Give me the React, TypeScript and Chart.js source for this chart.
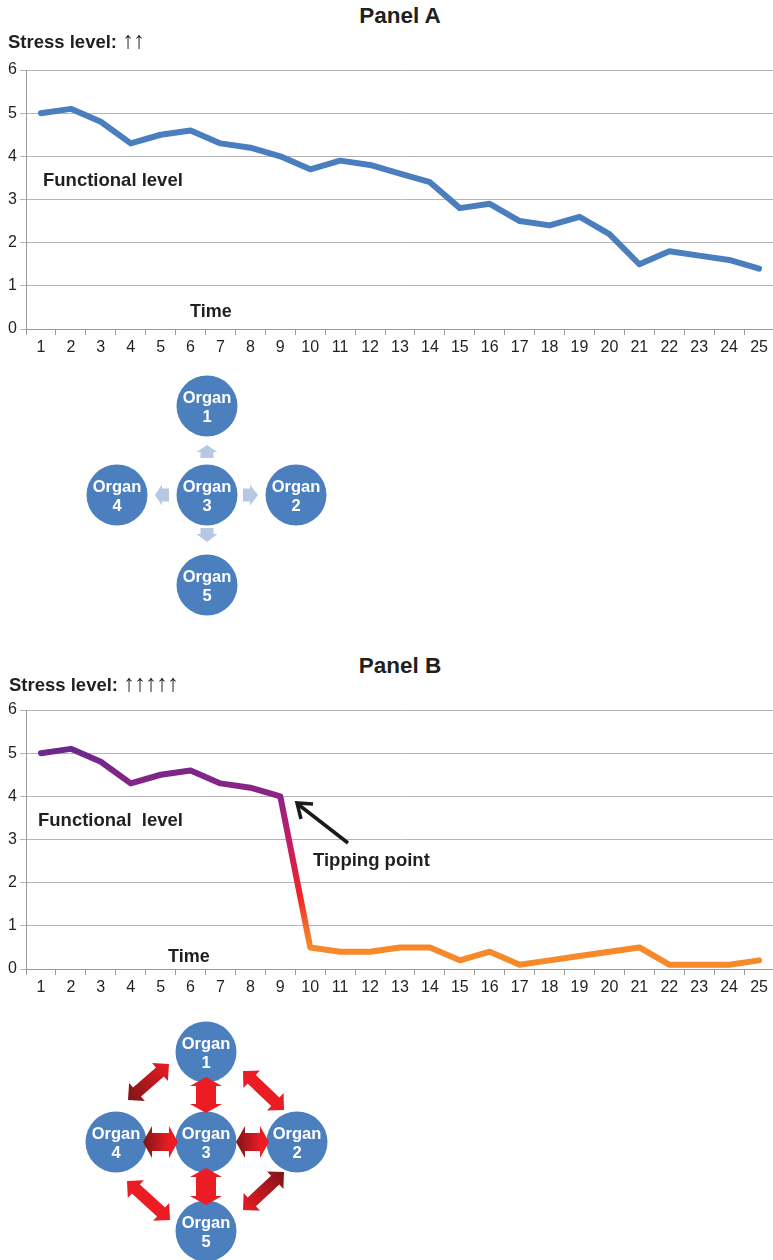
import React, { useEffect, useRef } from "react";
import { Chart, registerables } from "chart.js";

Chart.register(...registerables);

const timeLabels = ["1","2","3","4","5","6","7","8","9","10","11","12","13","14","15","16","17","18","19","20","21","22","23","24","25"];
const functionalA = [5.0, 5.1, 4.8, 4.3, 4.5, 4.6, 4.3, 4.2, 4.0, 3.7, 3.9, 3.8, 3.6, 3.4, 2.8, 2.9, 2.5, 2.4, 2.6, 2.2, 1.5, 1.8, 1.7, 1.6, 1.4];
const functionalB = [5.0, 5.1, 4.8, 4.3, 4.5, 4.6, 4.3, 4.2, 4.0, 0.5, 0.4, 0.4, 0.5, 0.5, 0.2, 0.4, 0.1, 0.2, 0.3, 0.4, 0.5, 0.1, 0.1, 0.1, 0.2];
const yMin = 0;
const yMax = 6;
const yStep = 1;

const FONT = "'Liberation Sans', Arial, Helvetica, sans-serif";
const BLUE_LINE = "#4a7ebf";
const ORGAN_BLUE = "#4b7fbe";

type LineProps = { values: number[]; top: number; gradient: boolean };

function LineChart({ values, top, gradient }: LineProps) {
  const ref = useRef<HTMLCanvasElement | null>(null);
  useEffect(() => {
    if (!ref.current) return;
    const borderColor = gradient
      ? (ctx: any) => {
          const chart = ctx.chart;
          const { chartArea, scales } = chart;
          if (!chartArea) return "#8e2484";
          const y = scales.y;
          const hi = 5.1;
          const lo = 0.5;
          const g = chart.ctx.createLinearGradient(0, y.getPixelForValue(hi), 0, y.getPixelForValue(lo));
          const f = (v: number) => (hi - v) / (hi - lo);
          g.addColorStop(0, "#6a2a8c");
          g.addColorStop(f(4.0), "#8e2484");
          g.addColorStop(f(3.0), "#c21d67");
          g.addColorStop(f(1.7), "#ee2428");
          g.addColorStop(f(0.9), "#f4702a");
          g.addColorStop(1, "#f6892a");
          return g;
        }
      : BLUE_LINE;
    const chart = new Chart(ref.current, {
      type: "line",
      data: {
        labels: timeLabels,
        datasets: [
          {
            data: values,
            borderColor: borderColor as any,
            borderWidth: 6,
            pointRadius: 0,
            tension: 0,
            fill: false,
            borderJoinStyle: "round",
            borderCapStyle: "round",
          },
        ],
      },
      options: {
        animation: false,
        responsive: false,
        maintainAspectRatio: false,
        plugins: { legend: { display: false }, tooltip: { enabled: false } },
        layout: { padding: { top: 20, right: 2, left: 0, bottom: 0 } },
        scales: {
          x: {
            offset: true,
            grid: { display: true, drawOnChartArea: false, tickLength: 6, color: "#9a9a9a", offset: true },
            border: { color: "#9a9a9a" },
            ticks: { color: "#231f20", font: { family: FONT, size: 16 }, padding: 3, maxRotation: 0, autoSkip: false },
            afterFit: (s: any) => {
              s.height = 31;
            },
          },
          y: {
            min: yMin,
            max: yMax,
            ticks: { stepSize: yStep, color: "#231f20", font: { family: FONT, size: 16 }, padding: 3 },
            grid: { color: "#b5b5b5", tickLength: 6 },
            border: { color: "#9a9a9a" },
            afterFit: (s: any) => {
              s.width = 26;
            },
          },
        },
      },
    });
    return () => chart.destroy();
  }, [values, gradient]);
  return (
    <canvas
      ref={ref}
      width={776}
      height={310}
      style={{ position: "absolute", left: 0, top, width: 776, height: 310 }}
    />
  );
}

function Label({ text, left, top, size, bold = true, center = false, children }: any) {
  return (
    <div
      style={{
        position: "absolute",
        left: center ? left - 200 : left,
        width: center ? 400 : undefined,
        textAlign: center ? "center" : "left",
        top,
        fontFamily: FONT,
        fontSize: size,
        lineHeight: `${size}px`,
        fontWeight: bold ? "bold" : "normal",
        color: "#231f20",
        whiteSpace: "pre",
      }}
    >
      {text}
      {children}
    </div>
  );
}

function doubleArrow(p1: number[], p2: number[], w: number, hw: number, hl: number) {
  const dx = p2[0] - p1[0];
  const dy = p2[1] - p1[1];
  const L = Math.hypot(dx, dy);
  const ux = dx / L, uy = dy / L;
  const nx = -uy, ny = ux;
  const P = (base: number[], a: number, b: number) => [base[0] + ux * a + nx * b, base[1] + uy * a + ny * b];
  const pts = [
    p1,
    P(p1, hl, hw),
    P(p1, hl, w),
    P(p2, -hl, w),
    P(p2, -hl, hw),
    p2,
    P(p2, -hl, -hw),
    P(p2, -hl, -w),
    P(p1, hl, -w),
    P(p1, hl, -hw),
  ];
  return pts.map((p) => `${p[0].toFixed(1)},${p[1].toFixed(1)}`).join(" ");
}

function blockArrow(base: number[], dir: number[], len: number, bodyLen: number, bw: number, hw: number) {
  const [ux, uy] = dir;
  const nx = -uy, ny = ux;
  const P = (a: number, b: number) => [base[0] + ux * a + nx * b, base[1] + uy * a + ny * b];
  const pts = [P(0, -bw), P(bodyLen, -bw), P(bodyLen, -hw), P(len, 0), P(bodyLen, hw), P(bodyLen, bw), P(0, bw)];
  return pts.map((p) => `${p[0].toFixed(1)},${p[1].toFixed(1)}`).join(" ");
}

function Organ({ cx, cy, n }: { cx: number; cy: number; n: number }) {
  return (
    <g>
      <circle cx={cx} cy={cy} r={30.5} fill={ORGAN_BLUE} />
      <text x={cx} y={cy - 3} textAnchor="middle" fill="#fff" fontFamily={FONT} fontWeight="bold" fontSize={16.5}>
        Organ
      </text>
      <text x={cx} y={cy + 15.5} textAnchor="middle" fill="#fff" fontFamily={FONT} fontWeight="bold" fontSize={16.5}>
        {n}
      </text>
    </g>
  );
}

function Diagrams() {
  const light = "#b6c8e2";
  const red = "#ec1c24";
  return (
    <svg width={773} height={1260} style={{ position: "absolute", left: 0, top: 0, pointerEvents: "none" }}>
      <defs>
        <linearGradient id="hGrad" x1="0" y1="0" x2="1" y2="0">
          <stop offset="0" stopColor="#7e1417" />
          <stop offset="0.75" stopColor="#ec1c24" />
          <stop offset="1" stopColor="#ec1c24" />
        </linearGradient>
        <linearGradient id="dGradUp" gradientUnits="userSpaceOnUse" x1="128" y1="1100" x2="169" y2="1064">
          <stop offset="0" stopColor="#7e1417" />
          <stop offset="1" stopColor="#ec1c24" />
        </linearGradient>
        <linearGradient id="dGradDown" gradientUnits="userSpaceOnUse" x1="243" y1="1210" x2="284" y2="1172">
          <stop offset="0" stopColor="#ec1c24" />
          <stop offset="1" stopColor="#7e1417" />
        </linearGradient>
      </defs>
      {/* Panel A diagram */}
      <polygon points={blockArrow([207, 458], [0, -1], 13, 6, 6.5, 10.5)} fill={light} />
      <polygon points={blockArrow([169, 495], [-1, 0], 14, 7, 6.5, 10.5)} fill={light} />
      <polygon points={blockArrow([243, 495], [1, 0], 15, 7, 6.5, 10.5)} fill={light} />
      <polygon points={blockArrow([207, 528], [0, 1], 14, 6, 6.5, 10.5)} fill={light} />
      <Organ cx={207} cy={406} n={1} />
      <Organ cx={117} cy={495} n={4} />
      <Organ cx={207} cy={495} n={3} />
      <Organ cx={296} cy={495} n={2} />
      <Organ cx={207} cy={585} n={5} />

      {/* Panel B diagram */}
      <Organ cx={206} cy={1052} n={1} />
      <Organ cx={116} cy={1142} n={4} />
      <Organ cx={206} cy={1142} n={3} />
      <Organ cx={297} cy={1142} n={2} />
      <Organ cx={206} cy={1231} n={5} />
      <polygon points={doubleArrow([206, 1077], [206, 1113], 10, 16, 9)} fill={red} />
      <polygon points={doubleArrow([206, 1168], [206, 1205], 10, 16, 9)} fill={red} />
      <polygon points={doubleArrow([143, 1142], [178, 1142], 9, 16, 9)} fill="url(#hGrad)" />
      <polygon points={doubleArrow([236, 1142], [269, 1142], 9, 16, 9)} fill="url(#hGrad)" />
      <polygon points={doubleArrow([128, 1100], [169, 1064], 6, 12, 12)} fill="url(#dGradUp)" />
      <polygon points={doubleArrow([243, 1071], [284, 1110], 6, 12, 12)} fill={red} />
      <polygon points={doubleArrow([127, 1181], [170, 1220], 6, 12, 12)} fill={red} />
      <polygon points={doubleArrow([243, 1210], [284, 1172], 6, 12, 12)} fill="url(#dGradDown)" />

      {/* Tipping point arrow */}
      <line x1={348} y1={843} x2={299} y2={805} stroke="#1a1a1a" strokeWidth={3.5} />
      <polyline points="301,819 297,803 313,804" fill="none" stroke="#1a1a1a" strokeWidth={3.5} strokeLinejoin="miter" />
    </svg>
  );
}

const arrowStyle: React.CSSProperties = {
  fontWeight: "normal",
  fontSize: 24,
  lineHeight: "18px",
  fontFamily: FONT,
  letterSpacing: -1,
};

export default function App() {
  return (
    <div
      style={{
        position: "absolute",
        left: 0,
        top: 0,
        width: 773,
        height: 1260,
        overflow: "hidden",
        background: "#fff",
      }}
    >
      <LineChart values={functionalA} top={50} gradient={false} />
      <LineChart values={functionalB} top={690} gradient={true} />

      <Label text="Panel A" left={400} top={5} size={22.5} center />
      <Label text="Stress level: " left={8} top={30.5} size={18.5}>
        <span style={arrowStyle}>↑↑</span>
      </Label>
      <Label text="Functional level" left={43} top={170.5} size={18.5} />
      <Label text="Time" left={190} top={302} size={18} />

      <Label text="Panel B" left={400} top={654.5} size={22.5} center />
      <Label text="Stress level: " left={9} top={673.5} size={18.5}>
        <span style={arrowStyle}>↑↑↑↑↑</span>
      </Label>
      <Label text="Functional  level" left={38} top={811} size={18.5} />
      <Label text="Tipping point" left={313} top={850.5} size={18.5} />
      <Label text="Time" left={168} top={947} size={18} />

      <Diagrams />
    </div>
  );
}
